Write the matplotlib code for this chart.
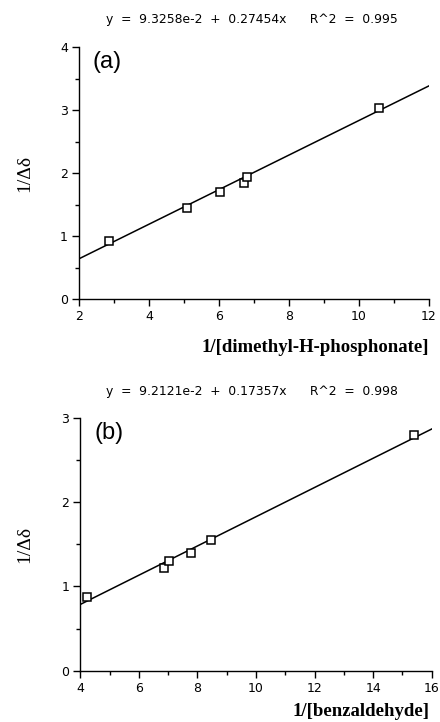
import matplotlib
matplotlib.use("Agg")
import matplotlib.pyplot as plt
import numpy as np
from matplotlib.ticker import MultipleLocator

# Panel (a) data
xa = [2.86, 5.08, 6.02, 6.71, 6.79, 10.57]
ya = [0.92, 1.45, 1.71, 1.84, 1.94, 3.03]
fit_a = (0.093258, 0.27454)
title_a = "y  =  9.3258e-2  +  0.27454x      R^2  =  0.995"
xlabel_a = "1/[dimethyl-H-phosphonate]"

# Panel (b) data
xb = [4.24, 6.86, 7.04, 7.78, 8.46, 15.41]
yb = [0.87, 1.22, 1.30, 1.40, 1.55, 2.80]
fit_b = (0.092121, 0.17357)
title_b = "y  =  9.2121e-2  +  0.17357x      R^2  =  0.998"
xlabel_b = "1/[benzaldehyde]"

ylabel = "1/\u0394\u03b4"

sans = ["DejaVu Sans"]
serif = ["Liberation Serif", "DejaVu Serif"]

fig = plt.figure(figsize=(4.4, 7.22), dpi=100)

def panel(rect, x, y, fit, xlim, ylim, xmaj, ymaj, tag, title, title_y, xlabel, xlabel_y):
    ax = fig.add_axes(rect)
    xs = np.array(xlim, dtype=float)
    ax.plot(xs, fit[0] + fit[1] * xs, color="black", lw=1.1, zorder=2)
    ax.plot(x, y, ls="none", marker="s", ms=5.5, mfc="white", mec="black", mew=1.1, zorder=3)
    ax.set_xlim(*xlim)
    ax.set_ylim(*ylim)
    ax.xaxis.set_major_locator(MultipleLocator(xmaj))
    ax.xaxis.set_minor_locator(MultipleLocator(xmaj / 2))
    ax.yaxis.set_major_locator(MultipleLocator(ymaj))
    ax.yaxis.set_minor_locator(MultipleLocator(ymaj / 2))
    for s in ("top", "right"):
        ax.spines[s].set_visible(False)
    for s in ("left", "bottom"):
        ax.spines[s].set_linewidth(1.0)
    ax.tick_params(which="major", direction="out", length=5, width=1, labelsize=9, pad=3)
    ax.tick_params(which="minor", direction="out", length=3, width=1)
    for lab in ax.get_xticklabels() + ax.get_yticklabels():
        lab.set_family(sans)
    ax.text(0.04, 0.985, tag, transform=ax.transAxes, fontsize=17, family=["Liberation Sans"],
            ha="left", va="top")
    fig.text(0.572, title_y, title, ha="center", va="center", fontsize=8.9, family=sans)
    fig.text(0.975, xlabel_y, xlabel, ha="right", va="center", fontsize=13.5,
             family=serif, fontweight="bold")
    cy = rect[1] + rect[3] / 2
    fig.text(0.057, cy, ylabel, ha="center", va="center", rotation=90, fontsize=14, family=serif)
    return ax

panel([0.1795, 0.5855, 0.7955, 0.349], xa, ya, fit_a, (2, 12), (0, 4), 2, 1, "(a)",
      title_a, 1 - 20 / 722, xlabel_a, 1 - 347 / 722)
panel([0.1825, 0.0711, 0.7985, 0.3499], xb, yb, fit_b, (4, 16), (0, 3), 2, 1, "(b)",
      title_b, 1 - 392 / 722, xlabel_b, 1 - 711 / 722)

fig.savefig("out.png", dpi=100)
